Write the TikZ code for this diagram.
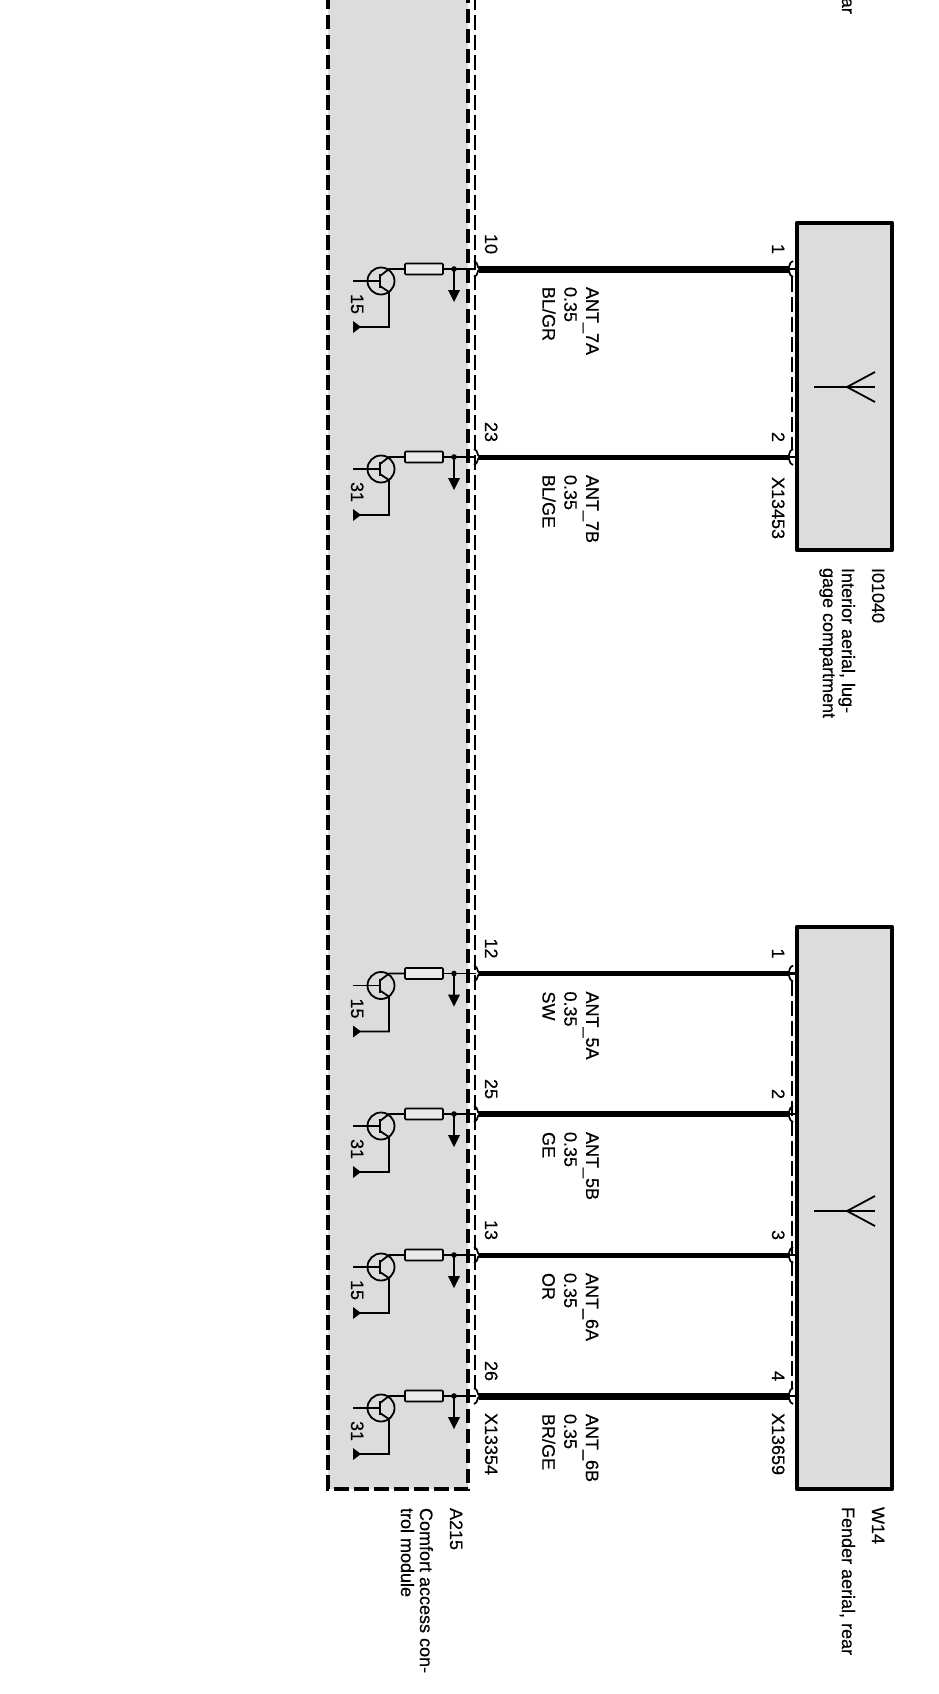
\documentclass[tikz,border=0pt]{standalone}
\usepackage{fontspec}
\setmainfont{Liberation Sans}
\definecolor{panel}{HTML}{DCDCDC}
\newcommand{\lblfont}{\fontsize{18}{19}\selectfont\addfontfeatures{FakeBold=0.35}}
\newcommand{\wirefont}{\fontsize{18}{21.8}\selectfont\addfontfeatures{FakeBold=0.35}}
\tikzset{
  x=1pt,y=-1pt,
  lbl/.style={rotate=-90,anchor=base west,inner sep=0pt,outer sep=0pt,font=\lblfont},
  multi/.style={rotate=-90,anchor=north west,inner sep=0pt,outer sep=0pt,align=left},
  wire/.style={line width=#1,draw=black},
  thin line/.style={line width=1.8pt,draw=black},
  bounddash/.style={line width=3.8pt,dash pattern=on 14.5pt off 5.5pt,draw=black},
  pindash/.style={line width=1.7pt,dash pattern=on 15pt off 5pt,draw=black},
  compbox/.style={draw=black,line width=4.5pt,fill=panel,line join=round},
  resistor/.style={draw=black,line width=1.7pt,fill=panel!60!white,rounded corners=1pt},
  chev/.style={draw=black,line width=1.7pt,fill=none},
}
% #1 id, #2 wire y, #3 wire width, #4 left pin, #5 right pin,
% #6 signal, #7 colour code, #8 supply
\newcommand{\channel}[8]{%
  \coordinate (L#1) at (476,#2);
  \coordinate (R#1) at (790,#2);
  \coordinate (M#1) at (479,#2);
  % driver
  \node[circle,draw=black,line width=1.8pt,minimum size=27pt,inner sep=0pt] (T#1) at (381,#2+12) {};
  \node[rectangle,resistor,minimum width=38pt,minimum height=11pt,inner sep=0pt] (Z#1) at (424,#2) {};
  \coordinate (J#1) at (454,#2);
  \coordinate (B#1) at (353,#2+12);
  \coordinate (E#1) at (389,#2+23);
  \coordinate (G#1) at (358,#2+58);
  \coordinate (A#1) at (454,#2+33);
  \draw[thin line] (B#1) -- (380,#2+12);
  \draw[line width=2.4pt] (380,#2+5) -- (380,#2+19);
  \draw[thin line] (380,#2+7) -- (389,#2) -- (Z#1.west);
  \draw[thin line] (Z#1.east) -- (J#1) -- (L#1);
  \draw[thin line] (380,#2+17) -- (E#1) -- (389,#2+58) -- (G#1);
  \fill (J#1) circle (2.8pt);
  \draw[thin line] (J#1) -- (454,#2+22);
  \fill (448,#2+21) -- (460,#2+21) -- (A#1) -- cycle;
  \fill (353,#2+52) -- (353,#2+64) -- (361,#2+58) -- cycle;
  \node[lbl] (S#1) at (351,#2+25) {#8};
  % wire with its two connector marks
  \draw[wire=#3] (M#1) -- (R#1);
  \draw[chev] (474,#2-8) .. controls (479,#2-6) and (476,#2-2) .. (480,#2) .. controls (476,#2+2) and (479,#2+6) .. (474,#2+8);
  \draw[chev] (793,#2-8) .. controls (788,#2-6) and (791,#2-2) .. (787,#2) .. controls (791,#2+2) and (788,#2+6) .. (793,#2+8);
  \draw[line width=2.5pt] (790,#2) -- (796,#2);
  % labels
  \node[lbl] (PL#1) at (485,#2-35) {#4};
  \node[lbl] (PR#1) at (772,#2-25) {#5};
  \node[multi,font=\wirefont] (N#1) at (598.5,#2+18) {#6\\0.35\\#7};
}
\begin{document}
\begin{tikzpicture}
\useasboundingbox (0,0) rectangle (938,1694);
% control module
\fill[panel] (328,-5) rectangle (468,1489);
\node[compbox,minimum width=95pt,minimum height=327pt,inner sep=0pt,anchor=center] (AE) at (844.5,386.5) {};
\node[compbox,minimum width=95pt,minimum height=562pt,inner sep=0pt,anchor=center] (FA) at (844.5,1208) {};
\draw[pindash] (475,-5) -- (475,1388);
\draw[pindash] (792,277) -- (792,449);
\draw[pindash] (792,981) -- (792,1388);
\channel{a}{269}{7pt}{10}{1}{ANT\_7A}{BL/GR}{15}
\channel{b}{457}{5pt}{23}{2}{ANT\_7B}{BL/GE}{31}
\channel{c}{973.5}{5pt}{12}{1}{ANT\_5A}{SW}{15}
\channel{d}{1114}{6pt}{25}{2}{ANT\_5B}{GE}{31}
\channel{e}{1255}{5pt}{13}{3}{ANT\_6A}{OR}{15}
\channel{f}{1396}{7pt}{26}{4}{ANT\_6B}{BR/GE}{31}
\draw[bounddash] (328,-5) -- (328,1489) -- (468,1489) -- (468,-5);
% aerial symbols
\foreach \yy/\nm in {387/p,1211/q}{
  \coordinate (S\nm) at (814,\yy);
  \coordinate (H\nm) at (847,\yy);
  \draw[line width=1.8pt] (S\nm) -- (875,\yy);
  \draw[line width=1.8pt] (875,\yy-15) -- (H\nm) -- (875,\yy+15);
}
% texts
\node[lbl] (X1) at (772,477) {X13453};
\node[lbl] (X2) at (772,1413) {X13659};
\node[lbl] (X3) at (485,1413) {X13354};
\node[lbl] (I1) at (872,568) {I01040};
\node[multi,font=\lblfont] (D1) at (855,568) {Interior aerial, lug-\\gage compartment};
\node[lbl] (I2) at (872,1507) {W14};
\node[multi,font=\lblfont] (D2) at (855,1507) {Fender aerial, rear};
\node[lbl] (I3) at (450,1508) {A215};
\node[multi,font=\lblfont] (D3) at (433,1508) {Comfort access con-\\trol module};
\node[rotate=-90,anchor=base east,inner sep=0pt,font=\lblfont] (T0) at (842,14) {ar};
\end{tikzpicture}
\end{document}
